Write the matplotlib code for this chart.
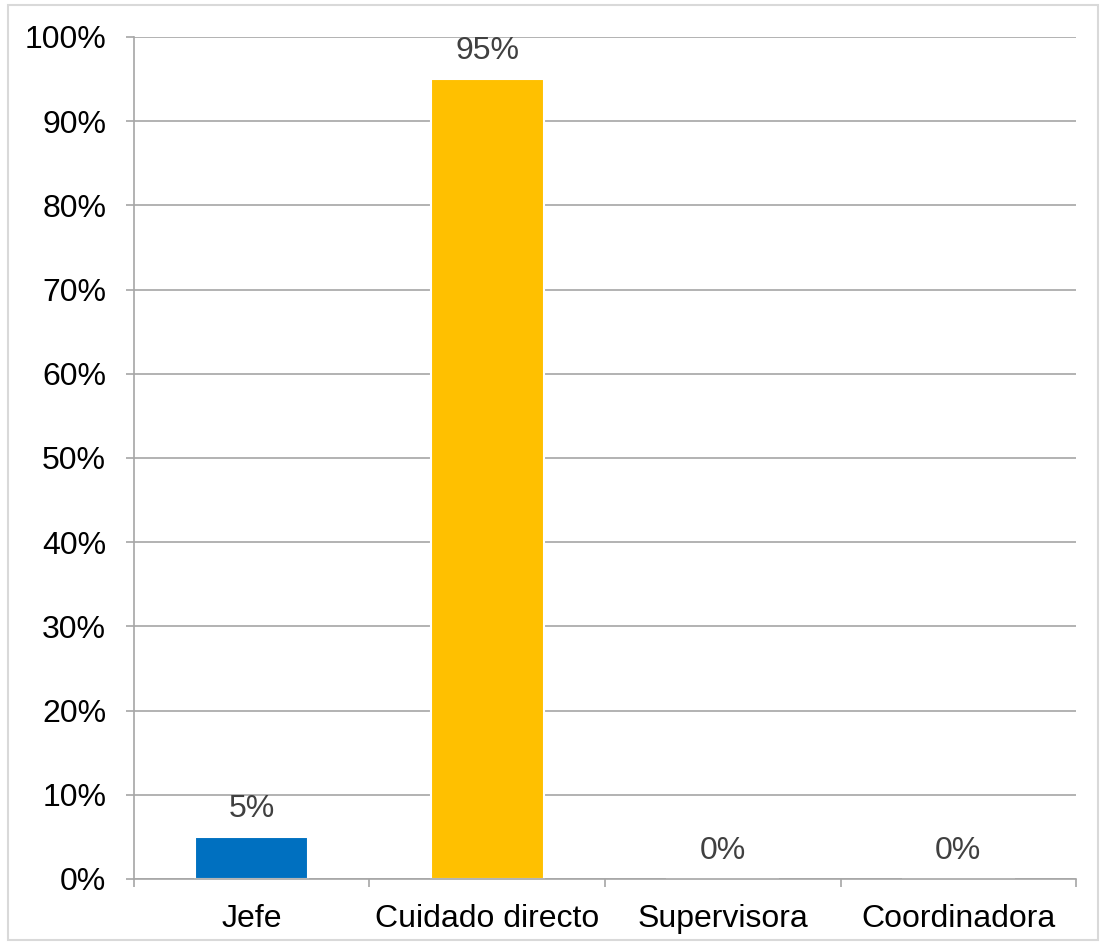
import matplotlib.pyplot as plt
import numpy as np
from matplotlib.patches import Rectangle

plt.rcParams['font.family'] = ['Liberation Sans', 'DejaVu Sans']

categories = ["Jefe", "Cuidado directo", "Supervisora", "Coordinadora"]
values = [5, 95, 0, 0]
colors = ["#0070C0", "#FFC000", "#A5A5A5", "#4472C4"]

grid_color = "#A6A6A6"
font_size = 23

fig = plt.figure(figsize=(11.01, 9.43), dpi=100)
ax = fig.add_axes([0.1217, 0.0679, 0.8556, 0.8929])

x = np.arange(len(categories))
ax.bar(x, values, width=0.48, color=colors, edgecolor="white", linewidth=1.5, zorder=3)

for xi, v in zip(x, values):
    ax.annotate(f"{v}%", (xi, v), xytext=(0, 20), textcoords="offset points",
                ha="center", va="center", fontsize=font_size, color="#404040")

ax.set_xlim(-0.5, len(categories) - 0.5)
ax.set_ylim(0, 100)
ax.set_yticks(np.arange(0, 101, 10))
ax.set_yticklabels([f"{t}%" for t in range(0, 101, 10)])
ax.yaxis.grid(True, color=grid_color, linewidth=1.2, zorder=0)
ax.tick_params(axis="y", length=6, width=1.2, color=grid_color, pad=14,
               labelsize=font_size, labelcolor="black")

ax.set_xticks(x)
ax.set_xticklabels(categories)
ax.set_xticks(np.arange(-0.5, len(categories), 1), minor=True)
ax.tick_params(axis="x", which="major", length=0, pad=18, labelsize=font_size, labelcolor="black")
ax.tick_params(axis="x", which="minor", length=6, width=1.2, color=grid_color)

for side in ["top", "right"]:
    ax.spines[side].set_visible(False)
for side in ["left", "bottom"]:
    ax.spines[side].set_color(grid_color)
    ax.spines[side].set_linewidth(1.2)
    ax.spines[side].set_zorder(4)

# light frame around the whole chart
fig.patches.append(Rectangle((8 / 1101, 3 / 943), 1090 / 1101, 935 / 943,
                             transform=fig.transFigure, fill=False,
                             edgecolor="#D9D9D9", linewidth=1.5))

fig.savefig("out.png", dpi=100)
